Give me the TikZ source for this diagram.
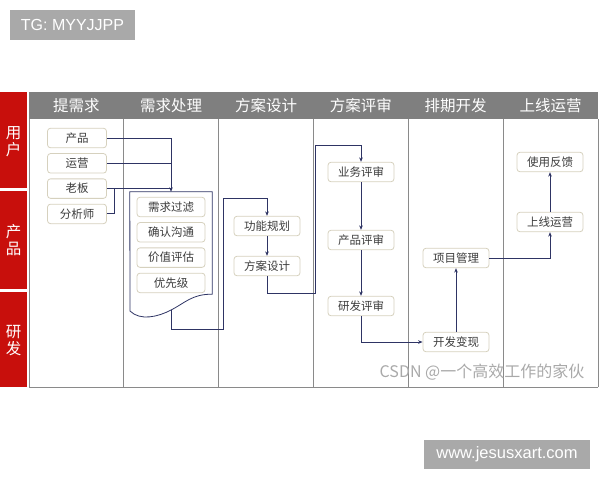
\documentclass[tikz,border=0pt]{standalone}
\usepackage{fontspec}
\setmainfont{Liberation Sans}
\newfontfamily\cjk{Noto Sans CJK SC}
\usepackage{xcolor}
\usetikzlibrary{arrows.meta, positioning}
\definecolor{headgray}{HTML}{7F7F7F}
\definecolor{rolered}{HTML}{C80F0C}
\definecolor{gridline}{HTML}{8A8A8A}
\definecolor{boxline}{HTML}{D6D1BE}
\definecolor{flowline}{HTML}{2E3464}
\definecolor{nodetext}{HTML}{3C3C3C}
\definecolor{wmgray}{HTML}{A9A9A9}

\begin{document}
\begin{tikzpicture}[
  x=1pt, y=-1pt, >={Stealth[length=4.5pt, width=3.6pt]}, node distance=5pt,
  task/.style={draw=boxline, line width=0.8pt, rounded corners=3pt, fill=white,
    minimum width=66pt, minimum height=19.5pt, inner sep=0pt, text=nodetext,
    font=\cjk\fontsize{11.5}{12}\selectfont},
  flow/.style={draw=flowline, line width=0.9pt},
  lane/.style={draw=gridline, line width=0.8pt},
  head/.style={text=white, font=\cjk\fontsize{15.5}{16}\selectfont},
  role/.style={text=white, align=center, font=\cjk\fontsize{15.5}{17}\selectfont},
  wmbox/.style={fill=wmgray, text=white, inner sep=0pt}
]
\useasboundingbox (0,0) rectangle (600,480);

\fill[headgray] (29,92) rectangle (598,119);
\foreach \lab [count=\i] in {提需求, 需求处理, 方案设计, 方案评审, 排期开发, 上线运营}
  \node[head] (h\i) at ({29+94.83*(\i-0.5)},105.5) {\lab};
\foreach \k in {0,...,6}
  \draw[lane] ({29+94.83*\k},119) -- ({29+94.83*\k},387);
\draw[lane] (29,387) -- (598,387);

\fill[rolered] (0,92) rectangle (27,188);
\fill[rolered] (0,190.5) rectangle (27,289);
\fill[rolered] (0,291.5) rectangle (27,387);
\node[role] (r1) at (13.5,142) {用\\户};
\node[role] (r2) at (13.5,240) {产\\品};
\node[role] (r3) at (13.5,341) {研\\发};

\node[task, minimum width=59pt] (cp) at (77,138) {产品};
\node[task, minimum width=59pt, below=of cp] (yy) {运营};
\node[task, minimum width=59pt, below=of yy] (lb) {老板};
\node[task, minimum width=59pt, below=of lb] (fx) {分析师};

\node[minimum width=82pt, minimum height=102pt, inner sep=0pt] (doc) at (171,243) {};
\draw[flowline, line width=0.8pt] (doc.north west) -- (doc.north east) -- (doc.south east)
  .. controls (192,294) and (185,303) .. (171,310) coordinate (docout)
  .. controls (158,317) and (140,321) .. (130,311) -- cycle;
\node[task, minimum width=68pt] (gl) at (171,207) {需求过滤};
\node[task, minimum width=68pt, below=of gl] (gt) {确认沟通};
\node[task, minimum width=68pt, below=of gt] (pg) {价值评估};
\node[task, minimum width=68pt, below=of pg] (yx) {优先级};

\node[task] (gn) at (267,226) {功能规划};
\node[task] (fa) at (267,266) {方案设计};

\node[task] (yw) at (361,172) {业务评审};
\node[task] (cps) at (361,240) {产品评审};
\node[task] (yf) at (361,306) {研发评审};

\node[task] (xm) at (456,258) {项目管理};
\node[task] (kf) at (456,342) {开发变现};

\node[task] (sx) at (550,222) {上线运营};
\node[task] (fk) at (550,162) {使用反馈};

\coordinate (j1) at (223,329);
\coordinate (j2) at (223,198);
\coordinate (j3) at (315,293);
\coordinate (j4) at (315,145);

\draw[flow, ->] (cp.east) -| (doc.north);
\draw[flow] (yy.east) -- (yy.east -| doc.north);
\draw[flow] (lb.east) -- (lb.east -| doc.north);
\draw[flow] (fx.east) -| ([xshift=8pt]lb.east);
\draw[flow, ->] (docout) |- (j1) -- (j2) -| (gn.north);
\draw[flow, ->] (gn) -- (fa);
\draw[flow, ->] (fa.south) |- (j3) -- (j4) -| (yw.north);
\draw[flow, ->] (yw) -- (cps);
\draw[flow, ->] (cps) -- (yf);
\draw[flow, ->] (yf.south) |- (kf.west);
\draw[flow, ->] (kf) -- (xm);
\draw[flow, ->] (xm.east) -| (sx.south);
\draw[flow, ->] (sx) -- (fk);

\node[text=wmgray, font=\cjk\fontsize{16}{16}\selectfont] (csdn) at (482,372) {CSDN @一个高效工作的家伙};
\node[wmbox, minimum width=125pt, minimum height=30pt, font=\fontsize{16}{16}\selectfont] (tg) at (72.5,25) {TG: MYYJJPP};
\node[wmbox, minimum width=166pt, minimum height=29pt, font=\fontsize{16.5}{16.5}\selectfont] (www) at (507,454.5) {www.jesusxart.com};
\end{tikzpicture}
\end{document}
